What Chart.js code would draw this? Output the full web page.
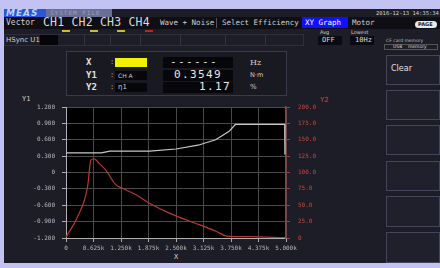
<!DOCTYPE html>
<html>
<head>
<meta charset="utf-8">
<script src="https://cdn.jsdelivr.net/npm/chart.js@4"></script>
<style>
  body { margin: 0; width: 440px; height: 268px; overflow: hidden; position: relative;
         background: #1d1d27; font-family: "DejaVu Sans Mono", monospace; color: #d8d8d8; }
  .a { position: absolute; white-space: nowrap; }
  .box { position: absolute; box-sizing: border-box; }
</style>
</head>
<body>
<!-- frame -->
<div class="box" style="left:0;top:0;width:440px;height:9px;background:#c3c3f3"></div>
<div class="box" style="left:0;top:0;width:4px;height:268px;background:#c3c3f3"></div>
<div class="box" style="left:0;top:263px;width:440px;height:5px;background:#c3c3f3"></div>

<!-- tabs -->
<div class="box" style="left:4px;top:9px;width:42px;height:8px;background:#2c55d8"></div>
<div class="a" style="left:6px;top:8px;font:bold italic 9px 'DejaVu Sans';color:#b8d4ff;letter-spacing:1px">MEAS</div>
<div class="box" style="left:46px;top:9px;width:66px;height:8px;background:#6a7094"></div>
<div class="a" style="left:50px;top:9px;font:6px 'DejaVu Sans Mono';color:#9aa0c0;letter-spacing:1px">SYSTEM FILE</div>
<div class="a" style="left:376px;top:10px;font:5.5px 'DejaVu Sans Mono';color:#d0d0d0">2016-12-13 14:35:34</div>

<!-- menu row -->
<div class="box" style="left:4px;top:17px;width:436px;height:12px;background:#0e0e14"></div>
<div class="a" style="left:6px;top:18px;font:8px 'DejaVu Sans Mono';color:#cfcfcf">Vector</div>
<div class="a" style="left:43px;top:15px;font:11.5px 'DejaVu Sans Mono';color:#d8d8d8;letter-spacing:0.2px">CH1 CH2 CH3 CH4</div>
<div class="a" style="left:160px;top:18px;font:7.5px 'DejaVu Sans Mono';color:#cfcfcf">Wave + Noise</div>
<div class="box" style="left:216px;top:18px;width:1px;height:10px;background:#555"></div>
<div class="a" style="left:222px;top:18px;font:7.5px 'DejaVu Sans Mono';color:#cfcfcf">Select Efficiency</div>
<div class="box" style="left:302px;top:17px;width:46px;height:11px;background:#1010ff"></div>
<div class="a" style="left:305px;top:18px;font:7.5px 'DejaVu Sans Mono';color:#ffffff">XY Graph</div>
<div class="a" style="left:352px;top:18px;font:7.5px 'DejaVu Sans Mono';color:#cfcfcf">Motor</div>
<div class="box" style="left:415px;top:21px;width:22px;height:7px;background:#e8e8e8;border-radius:4px"></div>
<div class="a" style="left:418px;top:21px;font:bold 5px 'DejaVu Sans';color:#222">PAGE</div>
<div class="box" style="left:62px;top:30px;width:8px;height:2px;background:#c8c020"></div>
<div class="box" style="left:90px;top:30px;width:8px;height:2px;background:#c8c020"></div>
<div class="box" style="left:117px;top:30px;width:8px;height:2px;background:#c8c020"></div>
<div class="box" style="left:145px;top:30px;width:8px;height:2px;background:#c82020"></div>

<!-- status row -->
<div class="box" style="left:4px;top:34px;width:300px;height:12px;border:1px solid #2e2e3e"></div>
<div class="a" style="left:6px;top:36px;font:7px 'DejaVu Sans';color:#d0d0d0">HSync U1</div>
<div class="box" style="left:40px;top:35px;width:18px;height:10px;background:#05050a"></div>
<div class="box" style="left:84px;top:35px;width:1px;height:10px;background:#333344"></div>
<div class="box" style="left:110px;top:35px;width:1px;height:10px;background:#333344"></div>
<div class="box" style="left:140px;top:35px;width:1px;height:10px;background:#333344"></div>
<div class="box" style="left:180px;top:35px;width:1px;height:10px;background:#333344"></div>
<div class="box" style="left:225px;top:35px;width:1px;height:10px;background:#333344"></div>
<div class="box" style="left:265px;top:35px;width:1px;height:10px;background:#333344"></div>
<div class="a" style="left:320px;top:29px;font:5px 'DejaVu Sans';color:#ccc">Avg</div>
<div class="box" style="left:318px;top:36px;width:24px;height:9px;background:#0a0a10"></div>
<div class="a" style="left:322px;top:36px;font:7px 'DejaVu Sans Mono';color:#ddd">OFF</div>
<div class="a" style="left:351px;top:29px;font:5px 'DejaVu Sans';color:#ccc">Lowest</div>
<div class="box" style="left:350px;top:36px;width:24px;height:9px;background:#0a0a10"></div>
<div class="a" style="left:355px;top:36px;font:7px 'DejaVu Sans Mono';color:#ddd">10Hz</div>
<div class="a" style="left:386px;top:38px;font:4.5px 'DejaVu Sans';color:#bbb">CF card memory</div>
<div class="box" style="left:384px;top:44px;width:54px;height:6px;border:1px solid #555"></div>
<div class="a" style="left:393px;top:44px;font:4.5px 'DejaVu Sans';color:#ddd">USB &nbsp;&nbsp; memory</div>

<!-- value panel -->
<div class="box" style="left:66px;top:51px;width:221px;height:45px;border:1px solid #3a3a4a;background:#191921"></div>
<div class="a" style="left:86px;top:57px;font:bold 9px 'DejaVu Sans Mono';color:#e0e0e0">X</div>
<div class="a" style="left:86px;top:70px;font:bold 9px 'DejaVu Sans Mono';color:#e0e0e0">Y1</div>
<div class="a" style="left:86px;top:82px;font:bold 9px 'DejaVu Sans Mono';color:#e0e0e0">Y2</div>
<div class="a" style="left:110px;top:58px;font:7px 'DejaVu Sans Mono';color:#aaa">:</div>
<div class="a" style="left:110px;top:71px;font:7px 'DejaVu Sans Mono';color:#aaa">:</div>
<div class="a" style="left:110px;top:83px;font:7px 'DejaVu Sans Mono';color:#aaa">:</div>
<div class="box" style="left:115px;top:58px;width:32px;height:9px;background:#f2f200"></div>
<div class="box" style="left:115px;top:71px;width:32px;height:9px;background:#07070b"></div>
<div class="a" style="left:118px;top:72px;font:6px 'DejaVu Sans';color:#ccc">CH A</div>
<div class="box" style="left:115px;top:83px;width:32px;height:9px;background:#07070b"></div>
<div class="a" style="left:118px;top:83px;font:7px 'DejaVu Sans';color:#ccc">η1</div>
<div class="box" style="left:163px;top:57px;width:70px;height:11px;background:#07070b"></div>
<div class="box" style="left:163px;top:70px;width:70px;height:11px;background:#07070b"></div>
<div class="box" style="left:163px;top:82px;width:70px;height:11px;background:#07070b"></div>
<div class="a" style="left:170px;top:55px;font:11px 'DejaVu Sans Mono';color:#e8e8e8;letter-spacing:1.4px">------</div>
<div class="a" style="left:174px;top:68px;font:11px 'DejaVu Sans Mono';color:#e8e8e8;letter-spacing:1.4px">0.3549</div>
<div class="a" style="right:209px;top:80px;font:11px 'DejaVu Sans Mono';color:#e8e8e8;letter-spacing:1.4px">1.17</div>
<div class="a" style="left:250px;top:58px;font:8px 'DejaVu Serif';color:#ccc">Hz</div>
<div class="a" style="left:250px;top:71px;font:6.5px 'DejaVu Sans';color:#ccc">N·m</div>
<div class="a" style="left:250px;top:83px;font:7px 'DejaVu Sans';color:#ccc">%</div>

<!-- right buttons -->
<div class="box" style="left:386px;top:55px;width:54px;height:30px;border:1px solid #44445a;background:#20202c"></div>
<div class="a" style="left:391px;top:64px;font:8px 'DejaVu Sans';color:#e0e0e0">Clear</div>
<div class="box" style="left:386px;top:90px;width:54px;height:30px;border:1px solid #44445a;background:#20202c"></div>
<div class="box" style="left:386px;top:125px;width:54px;height:30px;border:1px solid #44445a;background:#20202c"></div>
<div class="box" style="left:386px;top:161px;width:54px;height:30px;border:1px solid #44445a;background:#20202c"></div>
<div class="box" style="left:386px;top:196px;width:54px;height:31px;border:1px solid #44445a;background:#20202c"></div>
<div class="box" style="left:386px;top:232px;width:54px;height:31px;border:1px solid #44445a;background:#20202c"></div>

<!-- axis titles -->
<div class="a" style="left:22px;top:95px;font:7px 'DejaVu Sans Mono';color:#d0d0d0">Y1</div>
<div class="a" style="left:320px;top:96px;font:7px 'DejaVu Sans Mono';color:#d04a40">Y2</div>
<div class="a" style="left:174px;top:253px;font:7px 'DejaVu Sans Mono';color:#d0d0d0">X</div>

<canvas id="xy" width="340" height="178" style="position:absolute;left:0;top:90px"></canvas>

<script>
// X axis, 0 .. 5000
const xTickLabels = ['0', '0.625k', '1.250k', '1.875k', '2.500k', '3.125k', '3.750k', '4.375k', '5.000k'];
// Y1 ticks bottom -> top
const y1TickLabels = ['-1.200', '-0.900', '-0.600', '-0.300', '0', '0.300', '0.600', '0.900', '1.200'];
// Y2 ticks bottom -> top
const y2TickLabels = ['0', '25.0', '50.0', '75.0', '100.0', '125.0', '150.0', '175.0', '200.0'];

// Y1 : CH A (white trace)
const y1X = [0, 800, 1000, 1900, 2500, 3000, 3400, 3700, 3850, 4970, 4975];
const y1Values = [0.36, 0.36, 0.39, 0.39, 0.43, 0.50, 0.60, 0.75, 0.88, 0.88, 0.33];

// Y2 : eta1 (red trace)
const y2X = [0, 260, 490, 565, 640, 750, 900, 1135, 1285, 1590, 1895, 2350, 3040, 3420, 3650, 4180, 4980];
const y2Values = [1.5, 32, 78, 119, 121, 114, 104, 81, 76, 66, 53, 38, 20, 10, 3, 2, 0.5];

const pts = (xs, ys) => xs.map((x, i) => ({ x: x, y: ys[i] }));

const blackArea = {
  id: 'blackArea',
  beforeDraw(chart) {
    const { ctx, chartArea: a } = chart;
    ctx.save();
    ctx.fillStyle = '#000';
    ctx.fillRect(a.left, a.top, a.right - a.left, a.bottom - a.top);
    ctx.restore();
  },
};

const tickFont = { family: 'DejaVu Sans Mono', size: 6 };

new Chart(document.getElementById('xy'), {
  type: 'line',
  data: {
    datasets: [
      {
        label: 'Y1',
        data: pts(y1X, y1Values),
        yAxisID: 'y',
        borderColor: '#c8c8c8',
        borderWidth: 1.2,
        pointRadius: 0,
        tension: 0,
      },
      {
        label: 'Y2',
        data: pts(y2X, y2Values),
        yAxisID: 'y2',
        borderColor: '#b53a32',
        borderWidth: 1.2,
        pointRadius: 0,
        cubicInterpolationMode: 'monotone',
      },
    ],
  },
  options: {
    responsive: false,
    devicePixelRatio: 1,
    animation: false,
    layout: { padding: { top: 17, left: 0, right: 0, bottom: 0 } },
    plugins: { legend: { display: false }, tooltip: { enabled: false } },
    scales: {
      x: {
        type: 'linear',
        min: 0,
        max: 5000,
        ticks: {
          stepSize: 625,
          color: '#b8b8b8',
          font: tickFont,
          padding: 3,
          maxRotation: 0,
          autoSkip: false,
          callback: (v, i) => xTickLabels[i],
        },
        grid: { color: '#4a4a4a', tickColor: '#aaa', tickLength: 4 },
        border: { color: '#b0b0b0' },
        afterFit: (s) => { s.height = 30; },
      },
      y: {
        position: 'left',
        min: -1.2,
        max: 1.2,
        ticks: {
          stepSize: 0.3,
          color: '#b8b8b8',
          font: tickFont,
          padding: 7,
          autoSkip: false,
          callback: (v, i) => y1TickLabels[i],
        },
        grid: { color: '#4a4a4a', tickColor: '#aaa', tickLength: 4 },
        border: { color: '#b0b0b0' },
        afterFit: (s) => { s.width = 66; },
      },
      y2: {
        position: 'right',
        min: 0,
        max: 200,
        ticks: {
          stepSize: 25,
          color: '#c8483c',
          font: tickFont,
          padding: 8,
          autoSkip: false,
          callback: (v, i) => y2TickLabels[i],
        },
        grid: { drawOnChartArea: false, tickColor: '#a03c3c', tickLength: 4 },
        border: { color: '#a03c3c', width: 1.5 },
        afterFit: (s) => { s.width = 54; },
      },
    },
  },
  plugins: [blackArea],
});
</script>
</body>
</html>
